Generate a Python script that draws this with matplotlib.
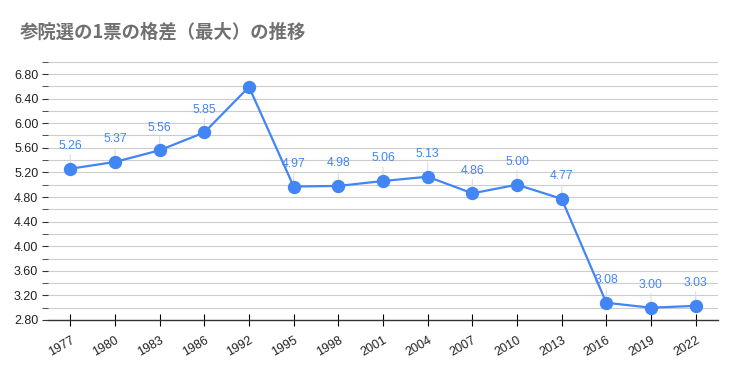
import matplotlib
matplotlib.use("Agg")
import matplotlib.pyplot as plt
import numpy as np

YEARS = ["1977", "1980", "1983", "1986", "1992", "1995", "1998", "2001",
         "2004", "2007", "2010", "2013", "2016", "2019", "2022"]
RATIO = [5.26, 5.37, 5.56, 5.85, 6.59, 4.97, 4.98, 5.06,
         5.13, 4.86, 5.00, 4.77, 3.08, 3.00, 3.03]
# 1992 label is not shown in the reference
SHOW_LABEL = [True, True, True, True, False, True, True, True,
              True, True, True, True, True, True, True]
YTICKS = [2.8, 3.2, 3.6, 4.0, 4.4, 4.8, 5.2, 5.6, 6.0, 6.4, 6.8]

BLUE = "#4285F4"

plt.rcParams["font.family"] = ["Liberation Sans", "DejaVu Sans"]

fig = plt.figure(figsize=(7.38, 3.71), dpi=100)
ax = fig.add_axes([48 / 738, 51 / 371, 670 / 738, 258.3 / 371])

x = np.arange(len(YEARS))
ax.plot(x, RATIO, color=BLUE, linewidth=1.6, marker="o", markersize=8.6,
        zorder=4, clip_on=False)

for xi, v, show in zip(x, RATIO, SHOW_LABEL):
    if not show:
        continue
    ax.annotate(f"{v:.2f}", (xi, v), xytext=(0, 12), textcoords="offset points",
                ha="center", va="bottom", color=BLUE, fontsize=8.8, zorder=5)
    ax.annotate("", (xi, v), xytext=(0, 12), textcoords="offset points",
                arrowprops=dict(arrowstyle="-", color="#dddddd", lw=0.8),
                zorder=3)

ax.set_xlim(-0.5, len(YEARS) - 0.5)
ax.set_ylim(2.8, 7.0)

minor = np.arange(2.8, 7.01, 0.2)
ax.set_yticks(minor, minor=True)
ax.set_yticks(YTICKS)
ax.set_yticklabels([f"{t:.2f}" for t in YTICKS])
ax.grid(axis="y", which="both", color="#cccccc", linewidth=0.8)
ax.set_axisbelow(True)
ax.tick_params(axis="y", which="both", length=4, color="#333333",
               labelsize=9, labelcolor="#222222", pad=3)

ax.set_xticks(x)
ax.set_xticklabels(YEARS, rotation=30, ha="right", rotation_mode="anchor")
ax.tick_params(axis="x", direction="inout", length=9, width=0.8,
               labelsize=9, labelcolor="#222222", pad=6)

for side in ["top", "right", "left"]:
    ax.spines[side].set_visible(False)
ax.spines["bottom"].set_color("#333333")
ax.spines["bottom"].set_linewidth(1.0)

fig.text(20 / 738, 1 - 32 / 371, "参院選の1票の格差（最大）の推移",
         fontsize=13.2, color="#707070", va="center", ha="left",
         fontweight="bold",
         family=["Noto Sans CJK JP", "DejaVu Sans"])

fig.savefig("out.png", dpi=100)
